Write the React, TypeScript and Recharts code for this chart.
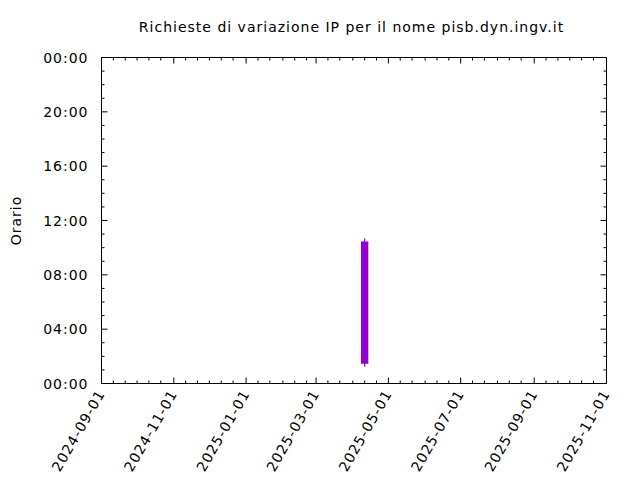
import React from 'react';
import { ComposedChart, Line, XAxis, YAxis, ReferenceArea } from 'recharts';

// ---- data ----
const chartTitle = 'Richieste di variazione IP per il nome pisb.dyn.ingv.it';
const yAxisTitle = 'Orario';
const axisStartDate = '2024-09-01';
const axisEndDate = '2025-11-01';
const majorTickDates = [
  '2024-09-01', '2024-11-01', '2025-01-01', '2025-03-01',
  '2025-05-01', '2025-07-01', '2025-09-01', '2025-11-01',
];
const minorTickDays = [1, 11, 21];
const hourTicks = [0, 4, 8, 12, 16, 20, 24];
const requestDay = '2025-04-11';
const requestTimes = ['01:30', '10:25'];

// ---- helpers ----
const toTs = (d: string) => {
  const [y, m, dd] = d.split('-').map(Number);
  return Date.UTC(y, m - 1, dd);
};
const toHour = (t: string) => {
  const [h, m] = t.split(':').map(Number);
  return h + m / 60;
};
const pad = (n: number) => String(n).padStart(2, '0');

const xMin = toTs(axisStartDate);
const xMax = toTs(axisEndDate);
const majorSet = new Set(majorTickDates.map(toTs));

const allXTicks: number[] = [];
{
  const s = new Date(xMin);
  let y = s.getUTCFullYear();
  let m = s.getUTCMonth();
  while (Date.UTC(y, m, 1) <= xMax) {
    for (const d of minorTickDays) {
      const t = Date.UTC(y, m, d);
      if (t >= xMin && t <= xMax) allXTicks.push(t);
    }
    m += 1;
    if (m > 11) { m = 0; y += 1; }
  }
}
const allYTicks: number[] = [];
for (let h = hourTicks[0]; h <= hourTicks[hourTicks.length - 1]; h++) allYTicks.push(h);
const majorHourSet = new Set(hourTicks);

const requestData = requestTimes.map((t) => ({ ts: toTs(requestDay), hour: toHour(t) }));

// ---- layout ----
const W = 640;
const H = 480;
const PLOT_LEFT = 101.5;
const PLOT_TOP = 57.5;
const PLOT_RIGHT = 606.5;
const PLOT_BOTTOM = 383.5;
const PLOT_W = PLOT_RIGHT - PLOT_LEFT;
const PLOT_H = PLOT_BOTTOM - PLOT_TOP;
const Y_AXIS_W = 60;
const COLOR = '#9400d3';
const FONT = '"DejaVu Sans", sans-serif';
const FONT_SIZE = 14;
const SPACING = 1;

const fmtDate = (ts: number) => {
  const d = new Date(ts);
  return `${d.getUTCFullYear()}-${pad(d.getUTCMonth() + 1)}-${pad(d.getUTCDate())}`;
};

const textStyle = { letterSpacing: `${SPACING}px` };

const XTick = (props: any) => {
  const { x, y, payload } = props;
  const v = payload.value as number;
  const major = majorSet.has(v);
  const len = major ? 6 : 3;
  return (
    <g>
      <line x1={x} x2={x} y1={y} y2={y - len} stroke="#000" strokeWidth={1} />
      <line x1={x} x2={x} y1={y - PLOT_H} y2={y - PLOT_H + len} stroke="#000" strokeWidth={1} />
      {major && (
        <text
          transform={`translate(${x + 4},${y + 10}) rotate(-60)`}
          textAnchor="end"
          fontFamily={FONT}
          fontSize={FONT_SIZE}
          fill="#000"
          style={textStyle}
        >
          {fmtDate(v)}
        </text>
      )}
    </g>
  );
};

const YTick = (props: any) => {
  const { x, y, payload } = props;
  const v = payload.value as number;
  const major = majorHourSet.has(v);
  const len = major ? 6 : 3;
  return (
    <g>
      <line x1={x} x2={x + len} y1={y} y2={y} stroke="#000" strokeWidth={1} />
      <line x1={x + PLOT_W} x2={x + PLOT_W - len} y1={y} y2={y} stroke="#000" strokeWidth={1} />
      {major && (
        <text
          x={x - 13}
          y={y}
          dy="0.36em"
          textAnchor="end"
          fontFamily={FONT}
          fontSize={FONT_SIZE}
          fill="#000"
          style={textStyle}
        >
          {`${pad(v % 24)}:00`}
        </text>
      )}
    </g>
  );
};

const PlusDot = (props: any) => {
  const { cx, cy } = props;
  if (cx == null || cy == null) return null;
  const r = 3.6;
  return (
    <g>
      <line x1={cx - r} x2={cx + r} y1={cy} y2={cy} stroke={COLOR} strokeWidth={1.2} />
      <line x1={cx} x2={cx} y1={cy - r} y2={cy + r} stroke={COLOR} strokeWidth={1.2} />
    </g>
  );
};

export default function App() {
  return (
    <div style={{ position: 'absolute', left: 0, top: 0, width: W, height: H, background: '#fff' }}>
      <ComposedChart
        width={W}
        height={H}
        data={requestData}
        margin={{ top: PLOT_TOP, right: W - PLOT_RIGHT, bottom: 0, left: PLOT_LEFT - Y_AXIS_W }}
      >
        <XAxis
          dataKey="ts"
          type="number"
          domain={[xMin, xMax]}
          ticks={allXTicks}
          interval={0}
          height={H - PLOT_BOTTOM}
          axisLine={false}
          tickLine={false}
          tickSize={0}
          tickMargin={0}
          tick={<XTick />}
          allowDataOverflow
        />
        <YAxis
          dataKey="hour"
          type="number"
          domain={[0, 24]}
          ticks={allYTicks}
          interval={0}
          width={Y_AXIS_W}
          axisLine={false}
          tickLine={false}
          tickSize={0}
          tickMargin={0}
          tick={<YTick />}
          allowDataOverflow
        />
        <ReferenceArea
          x1={xMin}
          x2={xMax}
          y1={0}
          y2={24}
          fill="none"
          stroke="#000"
          strokeWidth={1}
          ifOverflow="visible"
        />
        <Line
          dataKey="hour"
          type="linear"
          stroke={COLOR}
          strokeWidth={7.3}
          strokeLinecap="butt"
          dot={<PlusDot />}
          activeDot={false}
          isAnimationActive={false}
        />
        <text
          x={351.5}
          y={31.5}
          textAnchor="middle"
          fontFamily={FONT}
          fontSize={FONT_SIZE}
          fill="#000"
          style={textStyle}
        >
          {chartTitle}
        </text>
        <text
          transform={`translate(20.5,${(PLOT_TOP + PLOT_BOTTOM) / 2}) rotate(-90)`}
          textAnchor="middle"
          fontFamily={FONT}
          fontSize={FONT_SIZE}
          fill="#000"
          style={textStyle}
        >
          {yAxisTitle}
        </text>
      </ComposedChart>
    </div>
  );
}
